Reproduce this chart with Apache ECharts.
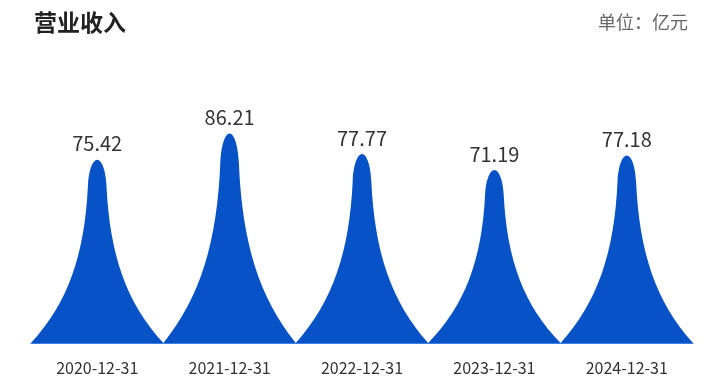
<!DOCTYPE html>
<html><head><meta charset="utf-8">
<script src="https://cdn.jsdelivr.net/npm/echarts@6/dist/echarts.min.js"></script>
<style>html,body{margin:0;padding:0;background:#fff}#c{width:725px;height:385px}</style>
</head><body><div id="c"></div>
<script>
const categories = ['2020-12-31','2021-12-31','2022-12-31','2023-12-31','2024-12-31'];
const revenue = [75.42, 86.21, 77.77, 71.19, 77.18];

const PEAK = 'path://M0,100 L100,100 C72,78 59.5,52 57,14 C56.5,6 53.5,0 50,0 C46.5,0 43.5,6 43,14 C40.5,52 28,78 0,100 Z';

const chart = echarts.init(document.getElementById('c'));
chart.setOption({
  animation: false,
  title: [
    {text: '营业收入', left: 29, top: 6, textStyle: {fontSize: 23, fontWeight: 'bold', color: '#222', fontFamily: 'Noto Sans CJK SC'}},
    {text: '单位：亿元', right: 32, top: 8, textStyle: {fontSize: 18, fontWeight: 'normal', color: '#666', fontFamily: 'Noto Sans CJK SC'}}
  ],
  grid: {left: 31, right: 32, top: 100, bottom: 42},
  xAxis: {
    type: 'category', data: categories,
    axisTick: {show: false},
    axisLine: {lineStyle: {color: '#3f7fe0', width: 1}},
    axisLabel: {color: '#333', fontSize: 16, margin: 17, fontFamily: 'Noto Sans CJK SC'}
  },
  yAxis: {type: 'value', min: 0, max: 100, show: false, splitLine: {show: false}},
  series: [{
    type: 'pictorialBar',
    barCategoryGap: '0%',
    symbol: PEAK,
    itemStyle: {color: '#0752c6'},
    label: {show: true, position: 'top', distance: 6, color: '#333', fontSize: 20, fontFamily: 'Noto Sans CJK SC'},
    data: revenue
  }]
});
</script></body></html>
